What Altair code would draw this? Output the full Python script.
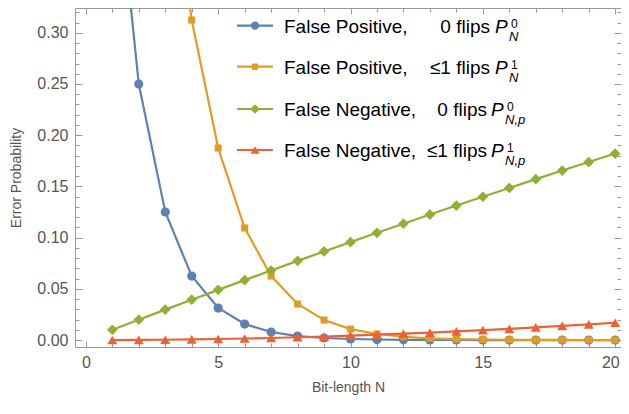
import altair as alt
import pandas as pd

# ---------------- data ----------------
N = list(range(1, 21))
fp0 = [0.5, 0.25, 0.125, 0.0625, 0.03125, 0.0156, 0.0078, 0.0039, 0.002, 0.001,
       0.0005, 0.0002, 0.0001, 0.0001, 0.0, 0.0, 0.0, 0.0, 0.0, 0.0]
fp1 = [1.0, 0.75, 0.5, 0.3125, 0.1875, 0.1094, 0.0625, 0.0352, 0.0195, 0.0107,
       0.0059, 0.0032, 0.0017, 0.0009, 0.0005, 0.0003, 0.0001, 0.0001, 0.0, 0.0]
fn0 = [0.01, 0.0199, 0.0297, 0.0394, 0.049, 0.0585, 0.0679, 0.0773, 0.0865, 0.0956,
       0.1047, 0.1136, 0.1225, 0.1313, 0.1399, 0.1485, 0.1571, 0.1655, 0.1738, 0.1821]
fn1 = [0.0, 0.0001, 0.0003, 0.0006, 0.001, 0.0015, 0.002, 0.0027, 0.0034, 0.0043,
       0.0052, 0.0062, 0.0072, 0.0084, 0.0096, 0.0109, 0.0123, 0.0138, 0.0153, 0.0169]

series_values = [fp0, fp1, fn0, fn1]
legend_main = ["False Positive,", "False Positive,", "False Negative,", "False Negative,"]
legend_flips = ["0 flips", "\u22641 flips", "0 flips", "\u22641 flips"]
legend_sup = ["0", "1", "0", "1"]
legend_sub = ["N", "N", "N,p", "N,p"]

x_major = [0, 5, 10, 15, 20]
x_minor = list(range(0, 21))
y_major = [0.0, 0.05, 0.1, 0.15, 0.2, 0.25, 0.3]
y_minor = [round(i * 0.01, 2) for i in range(0, 33)]

x_title = "Bit-length N"
y_title = "Error Probability"

# ---------------- style ----------------
colors = ["#5E81B5", "#E19C24", "#8FB032", "#EB6235"]
shapes = ["circle", "square", "diamond", "triangle-up"]
sizes = [85, 50, 115, 100]
FONT = "Liberation Sans"
GRAY = "#999999"
LABEL = "#555555"

W, H = 546, 339
xs = alt.Scale(domain=[-0.41, 20.22], nice=False, zero=False)
ys = alt.Scale(domain=[-0.0068, 0.3242], nice=False, zero=False)

layers = []

# series
for vals, c, sh, sz in zip(series_values, colors, shapes, sizes):
    d = pd.DataFrame({"N": N, "value": vals})
    base = alt.Chart(d).encode(
        x=alt.X("N:Q", scale=xs, axis=None),
        y=alt.Y("value:Q", scale=ys, axis=None),
    )
    layers.append(base.mark_line(color=c, strokeWidth=2.2, clip=True))
    layers.append(base.mark_point(shape=sh, filled=True, size=sz, color=c,
                                  opacity=1, clip=True))

# axes (labels + inward ticks on all four sides)
allv = pd.DataFrame({"N": N, "value": fn0})


def axis_layer(xaxis, yaxis):
    return alt.Chart(allv).mark_point(opacity=0, clip=True).encode(
        x=alt.X("N:Q", scale=xs, axis=xaxis),
        y=alt.Y("value:Q", scale=ys, axis=yaxis),
    )


def tick_axis(orient, values, size):
    return alt.Axis(orient=orient, values=values, ticks=True, tickSize=size,
                    offset=-size, tickColor=GRAY, tickWidth=1, labels=False,
                    domain=False, grid=False, title=None)


layers.append(axis_layer(
    alt.Axis(orient="bottom", values=x_major, ticks=False, domain=False, grid=False,
             labelFont=FONT, labelFontSize=16, labelColor=LABEL, labelPadding=7,
             labelFlush=10, labelFlushOffset=4,
             title=x_title, titleFont=FONT, titleFontSize=14, titleColor=LABEL,
             titleFontWeight="normal", titleY=44, titleBaseline="alphabetic"),
    alt.Axis(orient="left", values=y_major, format=".2f", ticks=False, domain=False,
             grid=False, labelFont=FONT, labelFontSize=16, labelColor=LABEL,
             labelPadding=7, title=y_title, titleFont=FONT, titleFontSize=14,
             titleColor=LABEL, titleFontWeight="normal", titleX=-59, titleY=H / 2,
             titleAngle=270, titleAlign="center", titleBaseline="middle"),
))
layers.append(axis_layer(tick_axis("bottom", x_major, 6), tick_axis("left", y_major, 7)))
layers.append(axis_layer(tick_axis("bottom", x_minor, 4), tick_axis("left", y_minor, 4)))
layers.append(axis_layer(tick_axis("top", x_major, 6), tick_axis("right", y_major, 7)))
layers.append(axis_layer(tick_axis("top", x_minor, 4), tick_axis("right", y_minor, 4)))

# legend (inside plot, upper right) - pixel offsets from plot's top-left
one = pd.DataFrame({"k": [0]})
row_center = [17.7, 58.7, 101, 142]
flips_right = [415, 415, 412, 412]
p_left = [420, 420, 416, 416]
for i in range(4):
    cy = row_center[i]
    by = cy + 6.8
    c = colors[i]
    b = alt.Chart(one)
    layers.append(b.mark_rule(color=c, strokeWidth=2.2).encode(
        x=alt.value(162), x2=alt.value(198), y=alt.value(cy)))
    layers.append(b.mark_point(shape=shapes[i], filled=True, size=sizes[i] * 0.8,
                               color=c, opacity=1).encode(
        x=alt.value(180), y=alt.value(cy)))
    layers.append(b.mark_text(align="left", baseline="alphabetic", font=FONT,
                              fontSize=19, color="black").encode(
        x=alt.value(209), y=alt.value(by), text=alt.value(legend_main[i])))
    layers.append(b.mark_text(align="right", baseline="alphabetic", font=FONT,
                              fontSize=19, color="black").encode(
        x=alt.value(flips_right[i]), y=alt.value(by), text=alt.value(legend_flips[i])))
    layers.append(b.mark_text(align="left", baseline="alphabetic", font=FONT,
                              fontSize=19, fontStyle="italic", color="black").encode(
        x=alt.value(p_left[i]), y=alt.value(by), text=alt.value("P")))
    layers.append(b.mark_text(align="left", baseline="alphabetic", font=FONT,
                              fontSize=12, color="black").encode(
        x=alt.value(p_left[i] + 16), y=alt.value(by - 5), text=alt.value(legend_sup[i])))
    layers.append(b.mark_text(align="left", baseline="alphabetic", font=FONT,
                              fontSize=13, fontStyle="italic", color="black").encode(
        x=alt.value(p_left[i] + 14), y=alt.value(by + 8), text=alt.value(legend_sub[i])))

chart = alt.layer(*layers).properties(
    width=W, height=H,
    autosize=alt.AutoSizeParams(type="none"),
    padding={"left": 67, "top": 0, "right": 0, "bottom": 59},
).resolve_axis(x="independent", y="independent").configure_view(
    stroke=GRAY, strokeWidth=1)

chart.save("out.html", embed_options={"renderer": "svg", "actions": False})
